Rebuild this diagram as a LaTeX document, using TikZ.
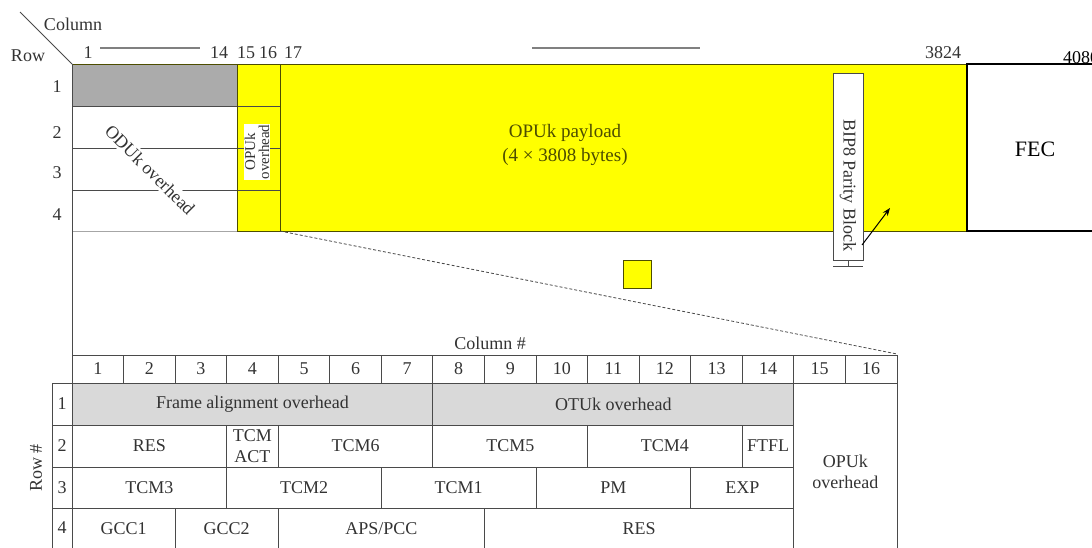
\documentclass[tikz,border=0pt]{standalone}
\usepackage{fontspec}
\setmainfont{Liberation Serif}
\usetikzlibrary{arrows.meta}

\definecolor{ink}{HTML}{333333}
\definecolor{rule}{HTML}{4A4A4A}
\definecolor{hdrgray}{HTML}{ABABAB}
\definecolor{cellgray}{HTML}{D9D9D9}
\definecolor{opuyellow}{HTML}{FFFF00}
\definecolor{olive}{HTML}{4D4D00}

\newcommand{\colx}[1]{72+51.5625*#1}

\tikzset{
  lbl/.style={font=\fontsize{18}{21}\selectfont, text=ink, inner sep=1pt},
  small/.style={font=\fontsize{15}{14}\selectfont, text=ink, inner sep=1pt},
  grid/.style={draw=rule, line width=0.9pt},
  frame/.style={draw=olive, line width=1pt},
}

\begin{document}
\begin{tikzpicture}[x=1pt, y=-1pt]
\useasboundingbox (0,0) rectangle (1092,547);

% frame overview
\fill[hdrgray] (72,64) rectangle (237,106);
\fill[opuyellow] (237,64) rectangle (967,231);
\draw[grid] (72,106) -- (280,106);
\draw[grid] (72,148) -- (280,148);
\draw[grid] (72,190) -- (280,190);
\draw[draw=gray!70, line width=1pt] (72,231) -- (237,231);
\draw[frame] (72,64) -- (967,64);
\draw[frame] (237,64) -- (237,231) -- (967,231);
\draw[frame] (280,64) -- (280,231);
\draw[line width=1.5pt] (1100,64) -- (967,64) -- (967,231) -- (1100,231);

\coordinate (corner) at (72,64);
\coordinate (slash) at (20,12);
\coordinate (tblcorner) at (72,355);
\draw[grid] (slash) -- (corner);
\draw[grid] (corner) -- (tblcorner);

\node[lbl] (colhd) at (73,24) {Column};
\node[lbl] (rowhd) at (28,56) {Row};
\node[lbl] (c1) at (88,53) {1};
\node[lbl] (c14) at (219,53) {14};
\node[lbl] (c15) at (246,53) {15};
\node[lbl] (c16) at (268,53) {16};
\node[lbl] (c17) at (293,53) {17};
\node[lbl] (c3824) at (943,53) {3824};
\node[lbl, text=black, anchor=west] (c4080) at (1062,58) {4080};
\coordinate (spanA) at (100,48); \coordinate (spanB) at (200,48);
\coordinate (spanC) at (532,48); \coordinate (spanD) at (700,48);
\draw[gray, line width=1.5pt] (spanA) -- (spanB);
\draw[gray, line width=1.5pt] (spanC) -- (spanD);

\foreach \r/\y in {1/87,2/133,3/173,4/215}
  \node[lbl] (r\r) at (57,\y) {\r};

\node[lbl, rotate=-45, fill=white, inner sep=2pt] (oduk) at (150,170) {ODUk overhead};
\node[small, rotate=90, fill=white, align=center] (opuoh) at (257,152) {OPUk\\overhead};
\node[font=\fontsize{19}{24}\selectfont, text=olive, align=center] (payload) at (565,145)
  {OPUk payload\\(4 × 3808 bytes)};
\node[font=\fontsize{22}{22}\selectfont] (fec) at (1035,149) {FEC};

% BIP8 block
\draw[draw=rule, fill=white, line width=0.8pt] (833,73) rectangle (863,260);
\draw[draw=rule, line width=0.8pt] (833,266) -- (863,266);
\draw[draw=rule, line width=0.8pt] (848,260) -- (848,266);
\node[lbl, rotate=-90] (bip) at (848,185) {BIP8 Parity Block};
\coordinate (bipfoot) at (862,245);
\coordinate (biptip) at (890,208);
\draw[-{Stealth[length=8pt]}, line width=1pt] (bipfoot) -- (biptip);

% zoom into the overhead
\node[draw=olive, fill=opuyellow, minimum width=28, minimum height=28, inner sep=0] (mini) at (637,274) {};
\coordinate (zA) at (280,231);
\coordinate (zB) at (897,354);
\draw[densely dashed, draw=rule, line width=0.8pt] (zA) -- (zB);
\node[lbl] (colnum) at (490,343) {Column \#};

% overhead table
\draw[grid] (tblcorner) rectangle (897,383);
\foreach \c in {1,...,15}
  \draw[grid] ({\colx{\c}},355) -- ({\colx{\c}},383);
\foreach \c in {1,...,16}
  \node[lbl] (h\c) at ({\colx{\c}-25.78},369) {\c};

\draw[grid] (52,383) -- (72,383);
\draw[grid] (52,383) -- (52,560);
\draw[grid] (52,425) -- (72,425);
\draw[grid] (52,467) -- (72,467);
\draw[grid] (52,508) -- (72,508);
\foreach \r/\y in {1/404,2/446,3/488,4/528}
  \node[lbl] (rn\r) at (62,\y) {\r};
\node[lbl, rotate=90] (rownum) at (36,468) {Row \#};

% row 1
\draw[grid, fill=cellgray] (72,383) rectangle node[lbl] (fao) {Frame alignment overhead} ({\colx{7}},425);
\draw[grid, fill=cellgray] ({\colx{7}},383) rectangle node[lbl] (otuoh) {OTUk overhead} ({\colx{14}},425);
% row 2
\draw[grid] (72,425) rectangle node[lbl] (res2) {RES} ({\colx{3}},467);
\draw[grid] ({\colx{3}},425) rectangle node[lbl, align=center] (tcmact) {TCM\\ACT} ({\colx{4}},467);
\draw[grid] ({\colx{4}},425) rectangle node[lbl] (tcm6) {TCM6} ({\colx{7}},467);
\draw[grid] ({\colx{7}},425) rectangle node[lbl] (tcm5) {TCM5} ({\colx{10}},467);
\draw[grid] ({\colx{10}},425) rectangle node[lbl] (tcm4) {TCM4} ({\colx{13}},467);
\draw[grid] ({\colx{13}},425) rectangle node[lbl] (ftfl) {FTFL} ({\colx{14}},467);
% row 3
\draw[grid] (72,467) rectangle node[lbl] (tcm3) {TCM3} ({\colx{3}},508);
\draw[grid] ({\colx{3}},467) rectangle node[lbl] (tcm2) {TCM2} ({\colx{6}},508);
\draw[grid] ({\colx{6}},467) rectangle node[lbl] (tcm1) {TCM1} ({\colx{9}},508);
\draw[grid] ({\colx{9}},467) rectangle node[lbl] (pm) {PM} ({\colx{12}},508);
\draw[grid] ({\colx{12}},467) rectangle node[lbl] (exp) {EXP} ({\colx{14}},508);
% row 4
\draw[grid] (72,508) rectangle node[lbl] (gcc1) {GCC1} ({\colx{2}},548.5);
\draw[grid] ({\colx{2}},508) rectangle node[lbl] (gcc2) {GCC2} ({\colx{4}},548.5);
\draw[grid] ({\colx{4}},508) rectangle node[lbl] (apspcc) {APS/PCC} ({\colx{8}},548.5);
\draw[grid] ({\colx{8}},508) rectangle node[lbl] (res4) {RES} ({\colx{14}},548.5);
% OPUk overhead columns
\draw[grid] ({\colx{14}},383) rectangle node[lbl, align=center, yshift=-6pt] (opucell) {OPUk\\overhead} (897,548.5);
\end{tikzpicture}
\end{document}
